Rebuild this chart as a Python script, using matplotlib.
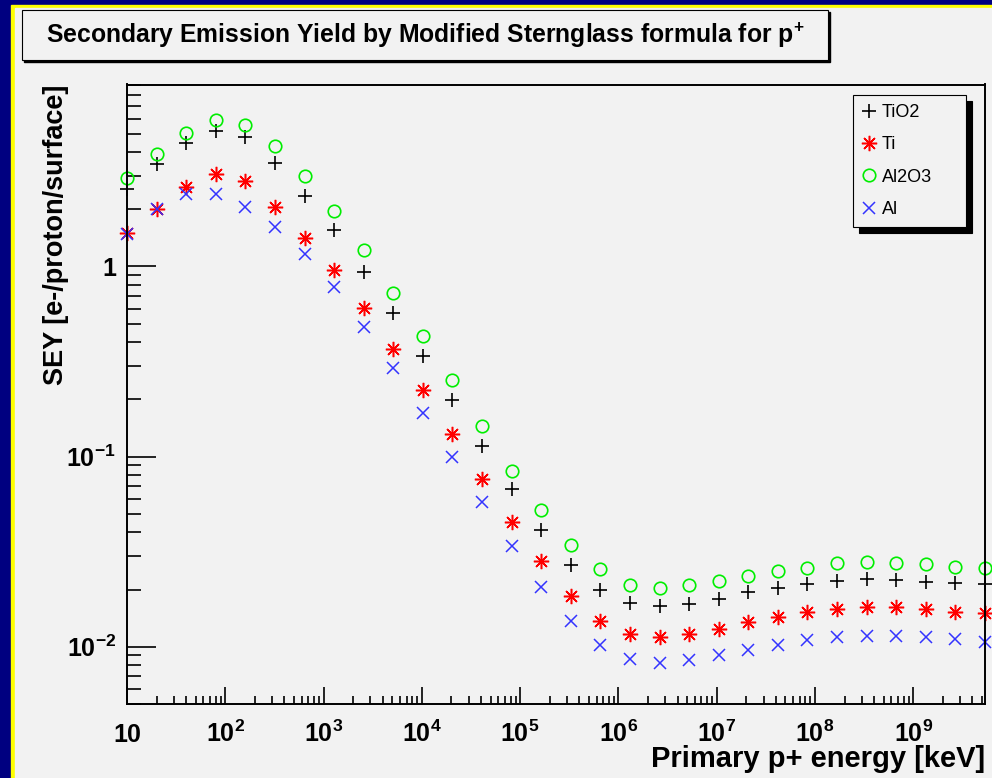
import matplotlib
matplotlib.use("Agg")
import matplotlib.pyplot as plt
from matplotlib.patches import Rectangle
from matplotlib.ticker import LogLocator, NullFormatter

plt.rcParams["font.family"] = ["Liberation Sans", "DejaVu Sans"]
plt.rcParams["mathtext.fontset"] = "custom"
plt.rcParams["mathtext.rm"] = "Liberation Sans:bold"
plt.rcParams["mathtext.bf"] = "Liberation Sans:bold"
plt.rcParams["mathtext.it"] = "Liberation Sans:bold:italic"
plt.rcParams["mathtext.default"] = "bf"

# primary proton energy [keV]
energy_kev = [10, 20, 40, 80, 160, 320, 640, 1280, 2560, 5120, 10240, 20480,
              40960, 81920, 163840, 327680, 655360, 1310720, 2621440, 5242880,
              10485760, 20971520, 41943040, 83886080, 167772160, 335544320,
              671088640, 1342177280, 2684354560, 5368709120]

sey_tio2 = [2.55, 3.46, 4.45, 5.18, 4.82, 3.50, 2.35, 1.556, 0.939, 0.571,
            0.338, 0.199, 0.114, 0.0673, 0.0411, 0.0269, 0.0200, 0.0170,
            0.0164, 0.0168, 0.0178, 0.0195, 0.0204, 0.0214, 0.0223, 0.0228,
            0.0224, 0.0220, 0.0217, 0.0213]
sey_ti = [1.506, 2.006, 2.61, 3.07, 2.83, 2.05, 1.41, 0.958, 0.607, 0.370,
          0.224, 0.131, 0.0762, 0.0455, 0.0282, 0.0185, 0.0137, 0.01166,
          0.01129, 0.01166, 0.0124, 0.01343, 0.01428, 0.01528, 0.01574,
          0.0161, 0.0161, 0.01578, 0.01528, 0.0150]
sey_al2o3 = [2.93, 3.91, 5.02, 5.90, 5.55, 4.30, 2.99, 1.966, 1.221, 0.728,
             0.431, 0.253, 0.145, 0.0843, 0.0522, 0.0343, 0.0255, 0.0211,
             0.0203, 0.0211, 0.0222, 0.0236, 0.0249, 0.0261, 0.0276, 0.0280,
             0.0277, 0.0271, 0.0264, 0.0258]
sey_al = [1.49, 2.0, 2.41, 2.40, 2.05, 1.613, 1.164, 0.783, 0.479, 0.291,
          0.169, 0.0991, 0.0579, 0.0337, 0.0205, 0.0137, 0.0102, 0.00865,
          0.00818, 0.00848, 0.00904, 0.00961, 0.0102, 0.01084, 0.01125,
          0.01143, 0.01143, 0.0112, 0.0110, 0.0106]

x_major = [1e1, 1e2, 1e3, 1e4, 1e5, 1e6, 1e7, 1e8, 1e9]
x_labels = ["10", "$10^{2}$", "$10^{3}$", "$10^{4}$", "$10^{5}$",
            "$10^{6}$", "$10^{7}$", "$10^{8}$", "$10^{9}$"]
y_major = [1e-2, 1e-1, 1]
y_labels = ["$10^{-2}$", "$10^{-1}$", "1"]

W, H = 992, 778
BG = "#f2f2f2"


def fx(x):
    return x / W


def fy(y):
    return 1 - y / H


fig = plt.figure(figsize=(W / 100, H / 100), dpi=100)
fig.patch.set_facecolor("#000080")
fig.add_artist(Rectangle((fx(11), 0), 1, fy(5), transform=fig.transFigure,
                         color="#ffff00", zorder=-10))
fig.add_artist(Rectangle((fx(15), 0), 1, fy(8), transform=fig.transFigure,
                         color=BG, zorder=-9))

# title pave with shadow
fig.add_artist(Rectangle((fx(24), fy(62)), (828 - 22) / W, 50 / H,
                         transform=fig.transFigure, color="black", zorder=-8))
fig.add_artist(Rectangle((fx(22), fy(60)), (828 - 22) / W, 50 / H,
                         transform=fig.transFigure, facecolor=BG,
                         edgecolor="black", lw=0.8, zorder=-7))
fig.text(fx(425), fy(42.5),
         "Secondary Emission Yield by Modified Sternglass formula for p$^{+}$",
         ha="center", va="baseline", fontsize=17.8, fontweight="bold")

ax = fig.add_axes([fx(127), fy(704), (985 - 127) / W, (704 - 84.5) / H])
ax.set_facecolor(BG)
ax.set_xscale("log")
ax.set_yscale("log")

h1, = ax.plot(energy_kev, sey_tio2, ls="none", marker="+", ms=10,
              mew=1.2, color="black", clip_on=False)
h2, = ax.plot(energy_kev, sey_ti, ls="none", marker=(8, 2, 0), ms=11,
              mew=1.1, color="#ff0000", clip_on=False)
h2b, = ax.plot(energy_kev, sey_ti, ls="none", marker="o", ms=3.5,
               mew=0, color="#ff0000", clip_on=False)
h3, = ax.plot(energy_kev, sey_al2o3, ls="none", marker="o", ms=9,
              mew=1.2, mfc="none", mec="#00ee00", clip_on=False)
h4, = ax.plot(energy_kev, sey_al, ls="none", marker="x", ms=8,
              mew=1.1, color="#3333ff", clip_on=False)

ax.set_xlim(10, energy_kev[-1])
ax.set_ylim(0.005, 9.06)

ax.set_xticks(x_major, x_labels)
ax.xaxis.set_minor_locator(LogLocator(base=10, subs=range(2, 10), numticks=100))
ax.xaxis.set_minor_formatter(NullFormatter())
ax.set_yticks(y_major, y_labels)
ax.yaxis.set_minor_locator(LogLocator(base=10, subs=range(2, 10), numticks=100))
ax.yaxis.set_minor_formatter(NullFormatter())

ax.tick_params(axis="both", which="both", direction="in", labelsize=18,
               width=1.2, top=False, right=False)
ax.tick_params(axis="x", which="major", length=12, pad=27)
ax.tick_params(axis="x", which="minor", length=6)
ax.tick_params(axis="y", which="major", length=21, pad=8)
ax.tick_params(axis="y", which="minor", length=10)
for lbl in ax.get_xticklabels():
    lbl.set_va("baseline")
    lbl.set_fontweight("bold")
for lbl in ax.get_yticklabels():
    lbl.set_fontweight("bold")
for sp in ax.spines.values():
    sp.set_linewidth(1.4)

fig.text(fx(56), fy(85), "SEY [e-/proton/surface]", rotation=90,
         ha="center", va="top", fontsize=19.5, fontweight="bold")
fig.text(fx(985), fy(767), "Primary p+ energy [keV]", ha="right",
         va="baseline", fontsize=21, fontweight="bold")

leg = ax.legend([h1, (h2, h2b), h3, h4], ["TiO2", "Ti", "Al2O3", "Al"],
                loc="upper left", mode="expand",
                bbox_to_anchor=(fx(853), fy(95) - 0.01, (966 - 853) / W, 0.01),
                bbox_transform=fig.transFigure, borderaxespad=0,
                fontsize=13, frameon=True, fancybox=False, framealpha=1,
                facecolor=BG, edgecolor="black", borderpad=0.5,
                labelspacing=0.85, handlelength=0.75, handletextpad=0.36,
                shadow={"ox": 4, "oy": -4, "color": "black", "alpha": 1})
leg.get_frame().set_linewidth(0.8)

fig.savefig("out.png", dpi=100, facecolor=fig.get_facecolor())
